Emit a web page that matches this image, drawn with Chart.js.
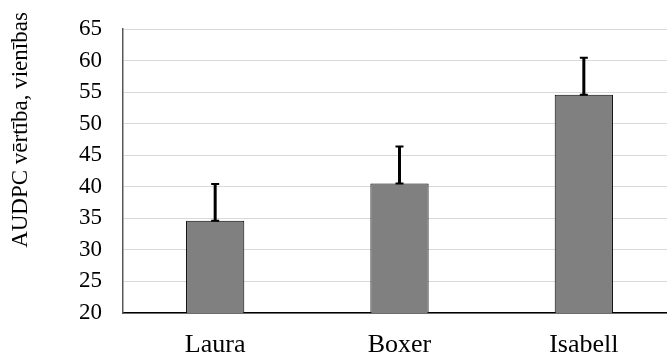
<!DOCTYPE html>
<html>
<head>
<meta charset="utf-8">
<script src="https://cdn.jsdelivr.net/npm/chart.js@4.4.1/dist/chart.umd.min.js"></script>
<style>
  html, body { margin: 0; padding: 0; overflow: hidden; background: #fff; }
  #wrap { width: 676px; height: 355px; position: relative; }
</style>
</head>
<body>
<div id="wrap"><canvas id="chart"></canvas></div>
<script>
const categories = ["Laura", "Boxer", "Isabell"];
const audpc = [34.6, 40.5, 54.6];
const errUp = [5.85, 5.9, 5.85];
const yTitle = "AUDPC vērtība, vienības";

const fontFam = "'Liberation Serif', 'Times New Roman', serif";

// upper-only error bars, drawn after the bars
const errorBars = {
  id: 'errorBars',
  afterDatasetsDraw(chart) {
    const ctx = chart.ctx;
    const y = chart.scales.y;
    const meta = chart.getDatasetMeta(0);
    ctx.save();
    ctx.strokeStyle = '#000';
    meta.data.forEach((bar, i) => {
      const top = y.getPixelForValue(audpc[i] + errUp[i]);
      ctx.lineWidth = 3;
      ctx.beginPath();
      ctx.moveTo(bar.x, bar.y);
      ctx.lineTo(bar.x, top);
      ctx.stroke();
      ctx.lineWidth = 2;
      ctx.beginPath();
      ctx.moveTo(bar.x - 4, top);
      ctx.lineTo(bar.x + 4, top);
      ctx.moveTo(bar.x - 4, bar.y);
      ctx.lineTo(bar.x + 4, bar.y);
      ctx.stroke();
    });
    ctx.restore();
  }
};

// y title sits higher than the plot centre in the original
const sideTitle = {
  id: 'sideTitle',
  afterDraw(chart) {
    const ctx = chart.ctx;
    ctx.save();
    ctx.translate(21, 130);
    ctx.rotate(-Math.PI / 2);
    ctx.font = "23px " + fontFam;
    ctx.fillStyle = '#000';
    ctx.textAlign = 'center';
    ctx.textBaseline = 'middle';
    ctx.fillText(yTitle, 0, 0);
    ctx.restore();
  }
};

new Chart(document.getElementById("chart").getContext("2d"), {
  type: 'bar',
  data: {
    labels: categories,
    datasets: [{
      data: audpc,
      backgroundColor: '#808080',
      borderColor: '#000',
      borderWidth: 1,
      barPercentage: 0.316,
      categoryPercentage: 1.0
    }]
  },
  options: {
    responsive: true,
    maintainAspectRatio: false,
    animation: false,
    layout: { padding: { top: 29, right: 0, bottom: 0, left: 0 } },
    plugins: {
      legend: { display: false },
      tooltip: { enabled: false }
    },
    scales: {
      x: {
        afterFit(scale) { scale.height = 42; },
        grid: { display: false, drawTicks: false },
        border: { color: '#000', width: 1.5 },
        ticks: { color: '#000', font: { family: fontFam, size: 26 }, padding: 17 }
      },
      y: {
        min: 20,
        max: 65,
        afterFit(scale) {
          scale.width = 123;
          scale.paddingTop = 0;
          scale.paddingBottom = 0;
        },
        grid: { color: '#d9d9d9', lineWidth: 1, drawTicks: false },
        border: { color: '#595959', width: 1.5 },
        ticks: { stepSize: 5, color: '#000', font: { family: fontFam, size: 23 }, padding: 21 }
      }
    }
  },
  plugins: [errorBars, sideTitle]
});
</script>
</body>
</html>
